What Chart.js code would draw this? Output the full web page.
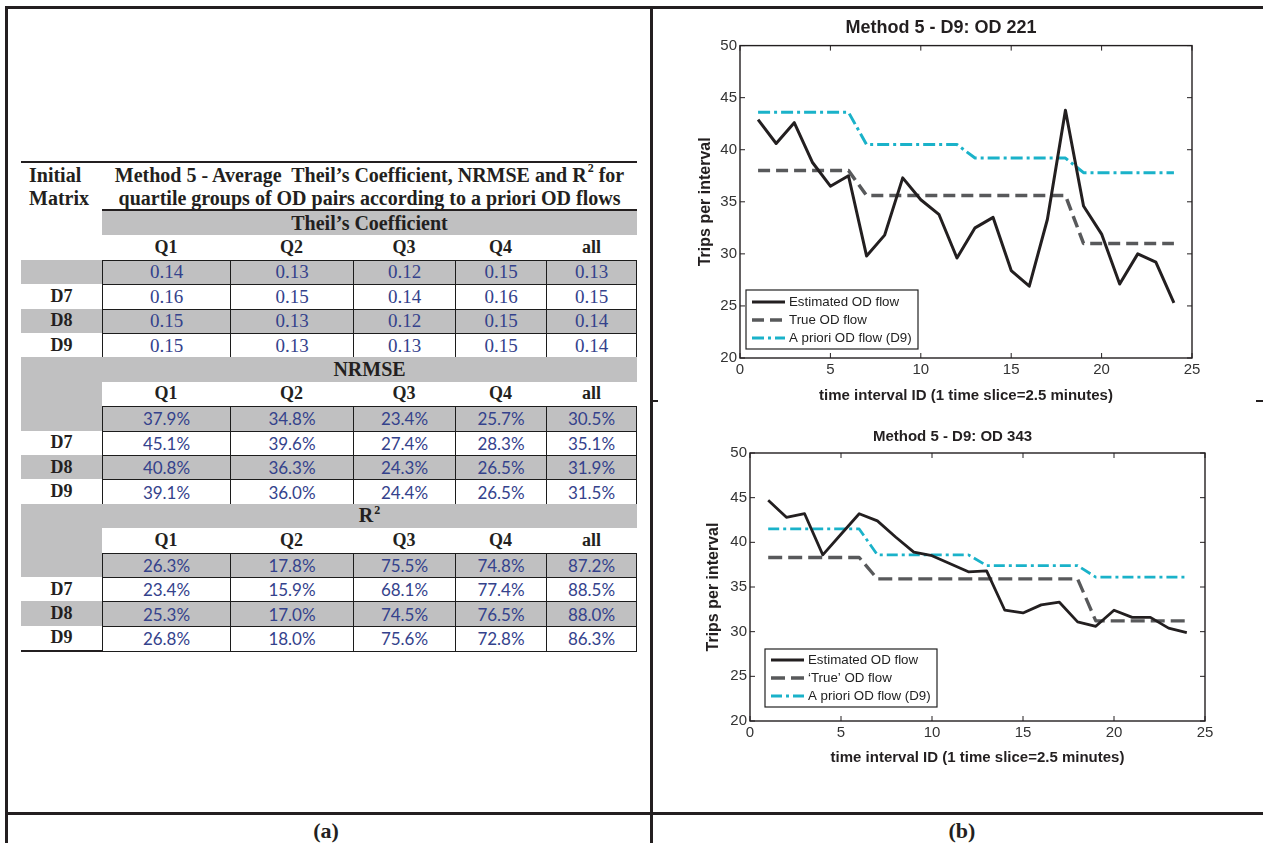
<!DOCTYPE html>
<html>
<head>
<meta charset="utf-8">
<title>Method 5 - D9</title>
<script src="https://cdn.jsdelivr.net/npm/chart.js@4.4.1/dist/chart.umd.min.js"></script>
<style>
    html, body { margin: 0; padding: 0; background: #fff; }
    #page { position: relative; width: 1263px; height: 843px; overflow: hidden; background: #fff; }
    .rule { position: absolute; background: #231f20; }
    .txt { position: absolute; white-space: nowrap; color: #231f20; }
    .serifB { font-family: 'Liberation Serif', 'Times New Roman', serif; font-weight: bold; font-size: 18px; }
    .big { font-size: 20px; }
    .fill { position: absolute; background: #c0c0c1; }
    .cell { position: absolute; box-sizing: border-box; display: flex; align-items: center; justify-content: center;
            border-left: 1.5px solid #1c1c1c; border-top: 1.5px solid #1c1c1c; color: #34428c; }
    .cell.valSerif { font-family: 'Liberation Serif', 'DejaVu Serif', serif; font-weight: normal; font-size: 19px; }
    .cell.valSans { font-family: Lato, 'Open Sans', sans-serif; font-size: 17px; }
    .center { position: absolute; display: flex; align-items: center; justify-content: center; white-space: nowrap; color: #231f20; }
    .sup { font-size: 12px; position: relative; top: -7px; margin-left: 1px; }
    canvas { position: absolute; }
</style>
</head>
<body>
<div id="page">
    <canvas id="chartOD221" width="530" height="400" style="left:690px; top:10px;"></canvas>
    <canvas id="chartOD343" width="530" height="355" style="left:700px; top:420px;"></canvas>
</div>
<script>
// ---------- table data ----------
const quartiles = ['Q1', 'Q2', 'Q3', 'Q4', 'all'];
const matrixLabels = ['', 'D7', 'D8', 'D9'];
const theilValues = [
    [0.14, 0.13, 0.12, 0.15, 0.13],
    [0.16, 0.15, 0.14, 0.16, 0.15],
    [0.15, 0.13, 0.12, 0.15, 0.14],
    [0.15, 0.13, 0.13, 0.15, 0.14],
];
const nrmseValues = [
    [37.9, 34.8, 23.4, 25.7, 30.5],
    [45.1, 39.6, 27.4, 28.3, 35.1],
    [40.8, 36.3, 24.3, 26.5, 31.9],
    [39.1, 36.0, 24.4, 26.5, 31.5],
];
const r2Values = [
    [26.3, 17.8, 75.5, 74.8, 87.2],
    [23.4, 15.9, 68.1, 77.4, 88.5],
    [25.3, 17.0, 74.5, 76.5, 88.0],
    [26.8, 18.0, 75.6, 72.8, 86.3],
];

// ---------- chart data ----------
const intervals = [1, 2, 3, 4, 5, 6, 7, 8, 9, 10, 11, 12, 13, 14, 15, 16, 17, 18, 19, 20, 21, 22, 23, 24];

const estimated221 = [42.9, 40.6, 42.6, 38.8, 36.5, 37.5, 29.8, 31.8, 37.3, 35.2, 33.8, 29.6,
                      32.5, 33.5, 28.4, 26.9, 33.3, 43.8, 34.6, 31.9, 27.1, 30.0, 29.2, 25.3];
const true221 = [38.0, 38.0, 38.0, 38.0, 38.0, 38.0, 35.6, 35.6, 35.6, 35.6, 35.6, 35.6,
                 35.6, 35.6, 35.6, 35.6, 35.6, 35.6, 31.0, 31.0, 31.0, 31.0, 31.0, 31.0];
const apriori221 = [43.6, 43.6, 43.6, 43.6, 43.6, 43.6, 40.5, 40.5, 40.5, 40.5, 40.5, 40.5,
                    39.2, 39.2, 39.2, 39.2, 39.2, 39.2, 37.8, 37.8, 37.8, 37.8, 37.8, 37.8];

const estimated343 = [44.7, 42.8, 43.2, 38.6, 40.9, 43.2, 42.4, 40.6, 38.9, 38.5, 37.6, 36.7,
                      36.8, 32.4, 32.1, 33.0, 33.3, 31.1, 30.6, 32.4, 31.6, 31.6, 30.4, 29.9];
const true343 = [38.3, 38.3, 38.3, 38.3, 38.3, 38.3, 35.9, 35.9, 35.9, 35.9, 35.9, 35.9,
                 35.9, 35.9, 35.9, 35.9, 35.9, 35.9, 31.2, 31.2, 31.2, 31.2, 31.2, 31.2];
const apriori343 = [41.5, 41.5, 41.5, 41.5, 41.5, 41.5, 38.6, 38.6, 38.6, 38.6, 38.6, 38.6,
                    37.4, 37.4, 37.4, 37.4, 37.4, 37.4, 36.1, 36.1, 36.1, 36.1, 36.1, 36.1];

const page = document.getElementById('page');

function addDiv(cls, style, html) {
    const d = document.createElement('div');
    d.className = cls;
    Object.assign(d.style, style);
    if (html !== undefined) d.innerHTML = html;
    page.appendChild(d);
    return d;
}
const px = (v) => v + 'px';

// ---------- panel frame ----------
addDiv('rule', { left: px(6), top: px(6), width: px(1257), height: px(2.5) });
addDiv('rule', { left: px(5), top: px(6), width: px(2.5), height: px(837) });
addDiv('rule', { left: px(650), top: px(6), width: px(2.5), height: px(837) });
addDiv('rule', { left: px(6), top: px(812), width: px(1257), height: px(2.5) });
addDiv('rule', { left: px(652), top: px(400), width: px(6), height: px(1.5) });
addDiv('rule', { left: px(1256), top: px(400), width: px(7), height: px(1.5) });
addDiv('center serifB', { left: px(300), top: px(817), width: px(52), height: px(28), fontSize: '22px' }, '(a)');
addDiv('center serifB', { left: px(936), top: px(817), width: px(52), height: px(28), fontSize: '22px' }, '(b)');

// ---------- table ----------
const colEdges = [21, 102, 230, 353, 455, 546, 637];
const tableTop = 211;
const rowH = 24.4;

addDiv('rule', { left: px(21), top: px(161), width: px(616), height: px(2) });
addDiv('txt serifB big', { left: px(29), top: px(164) }, 'Initial');
addDiv('txt serifB big', { left: px(29), top: px(187) }, 'Matrix');
addDiv('center serifB big', { left: px(102), top: px(164), width: px(535), height: px(23) },
    'Method 5 - Average&nbsp; Theil\u2019s Coefficient, NRMSE and R<span class="sup">2</span>&nbsp;for');
addDiv('center serifB big', { left: px(102), top: px(187), width: px(535), height: px(23) },
    'quartile groups of OD pairs according to a priori OD flows');
addDiv('rule', { left: px(102), top: px(209), width: px(535), height: px(2) });

const sections = [
    { name: 'Theil\u2019s Coefficient', values: theilValues, fmt: (v) => v.toFixed(2), cls: 'valSerif' },
    { name: 'NRMSE', values: nrmseValues, fmt: (v) => v.toFixed(1) + '%', cls: 'valSans' },
    { name: 'R<span class="sup" style="top:-5px">2</span>', values: r2Values, fmt: (v) => v.toFixed(1) + '%', cls: 'valSans' },
];

const dataLeft = colEdges[1];
const right = colEdges[colEdges.length - 1];

sections.forEach((sec, k) => {
    const y0 = tableTop + k * 6 * rowH;
    // grey band with section name
    const bandLeft = k === 0 ? dataLeft : colEdges[0];
    addDiv('fill', { left: px(bandLeft), top: px(y0), width: px(right - bandLeft), height: px(rowH) });
    if (k > 0) addDiv('fill', { left: px(colEdges[0]), top: px(y0), width: px(dataLeft - colEdges[0]), height: px(3 * rowH) });
    addDiv('center serifB big', { left: px(dataLeft), top: px(y0), width: px(right - dataLeft), height: px(rowH) }, sec.name);

    // quartile header row
    quartiles.forEach((q, c) => {
        addDiv('center serifB', { left: px(colEdges[c + 1]), top: px(y0 + rowH), width: px(colEdges[c + 2] - colEdges[c + 1]), height: px(rowH) }, q);
    });

    // value rows
    sec.values.forEach((row, r) => {
        const y = y0 + (2 + r) * rowH;
        if (r === 0 || r === 2) {
            addDiv('fill', { left: px(colEdges[0]), top: px(y), width: px(right - colEdges[0]), height: px(rowH) });
        }
        addDiv('center serifB', { left: px(colEdges[0]), top: px(y), width: px(dataLeft - colEdges[0]), height: px(rowH) }, matrixLabels[r]);
        row.forEach((v, c) => {
            const st = { left: px(colEdges[c + 1]), top: px(y), width: px(colEdges[c + 2] - colEdges[c + 1]), height: px(rowH + (r === 3 ? 1.5 : 0)) };
            if (c === row.length - 1) st.borderRight = '1.5px solid #1c1c1c';
            if (r === sec.values.length - 1) st.borderBottom = '1.5px solid #1c1c1c';
            addDiv('cell ' + sec.cls, st, sec.fmt(v));
        });
    });
});
addDiv('rule', { left: px(21), top: px(tableTop + 18 * rowH - 0.5), width: px(dataLeft - 21), height: px(2.5) });

// ---------- charts ----------
Chart.defaults.font.family = "'Liberation Sans', Arial, sans-serif";
Chart.defaults.color = '#333';

// MATLAB-like axes box with inward tick marks
const boxAxes = {
    id: 'boxAxes',
    afterDatasetsDraw(chart, args, opts) {
        const { ctx, chartArea: a, scales: { x, y } } = chart;
        ctx.save();
        ctx.strokeStyle = opts.color;
        ctx.lineWidth = opts.lineWidth;
        ctx.strokeRect(a.left, a.top, a.right - a.left, a.bottom - a.top);
        ctx.lineWidth = 1;
        ctx.beginPath();
        x.ticks.forEach((t) => {
            const p = x.getPixelForValue(t.value);
            ctx.moveTo(p, a.bottom); ctx.lineTo(p, a.bottom - opts.tickLength);
            ctx.moveTo(p, a.top); ctx.lineTo(p, a.top + opts.tickLength);
        });
        y.ticks.forEach((t) => {
            const p = y.getPixelForValue(t.value);
            ctx.moveTo(a.left, p); ctx.lineTo(a.left + opts.tickLength, p);
            ctx.moveTo(a.right, p); ctx.lineTo(a.right - opts.tickLength, p);
        });
        ctx.stroke();
        ctx.restore();
    },
};

// boxed legend in the lower left corner of the plot
const insideLegend = {
    id: 'insideLegend',
    afterDraw(chart, args, opts) {
        const { ctx, chartArea: a } = chart;
        const left = a.left + opts.offsetX;
        const top = a.bottom - opts.offsetY - opts.height;
        ctx.save();
        ctx.fillStyle = '#fff';
        ctx.fillRect(left, top, opts.width, opts.height);
        ctx.strokeStyle = '#222';
        ctx.lineWidth = 1.2;
        ctx.strokeRect(left, top, opts.width, opts.height);
        ctx.font = opts.fontSize + "px 'Liberation Sans', Arial, sans-serif";
        ctx.textBaseline = 'middle';
        chart.data.datasets.forEach((ds, i) => {
            const yy = top + opts.firstRow + i * opts.rowGap;
            ctx.beginPath();
            ctx.strokeStyle = ds.borderColor;
            ctx.lineWidth = ds.borderWidth;
            ctx.setLineDash(ds.borderDash || []);
            ctx.moveTo(left + 6, yy);
            ctx.lineTo(left + 6 + opts.sample, yy);
            ctx.stroke();
            ctx.setLineDash([]);
            ctx.fillStyle = '#222';
            ctx.fillText(ds.label, left + 10 + opts.sample, yy + 0.5);
        });
        ctx.restore();
    },
};

function toPoints(values) {
    return intervals.map((t, i) => ({ x: t, y: values[i] }));
}

function buildChart(canvasId, cfg) {
    return new Chart(document.getElementById(canvasId), {
        type: 'line',
        data: {
            datasets: [
                {
                    label: 'Estimated OD flow',
                    data: toPoints(cfg.estimated),
                    borderColor: '#231f20',
                    borderWidth: cfg.lineWidth,
                },
                {
                    label: cfg.trueLabel,
                    data: toPoints(cfg.trueFlow),
                    borderColor: '#58595b',
                    borderWidth: cfg.lineWidth + 0.5,
                    borderDash: cfg.dash,
                },
                {
                    label: 'A priori OD flow (D9)',
                    data: toPoints(cfg.apriori),
                    borderColor: '#1ab2c9',
                    borderWidth: cfg.lineWidth,
                    borderDash: cfg.dashDot,
                },
            ],
        },
        options: {
            responsive: false,
            animation: false,
            layout: { padding: { left: 0, right: cfg.padRight, top: 0, bottom: 0 } },
            elements: {
                point: { radius: 0 },
                line: { tension: 0, fill: false, borderJoinStyle: 'round' },
            },
            plugins: {
                legend: { display: false },
                tooltip: { enabled: false },
                title: {
                    display: true,
                    text: cfg.title,
                    color: '#231f20',
                    font: { size: cfg.titleSize, weight: 'bold', lineHeight: 1.2 },
                    padding: cfg.titlePadding,
                },
                boxAxes: { color: '#231f20', lineWidth: 1.4, tickLength: 5 },
                insideLegend: cfg.legend,
            },
            scales: {
                x: {
                    type: 'linear',
                    min: 0,
                    max: 25,
                    ticks: { stepSize: 5, font: { size: 15 }, color: '#333', padding: 3, maxRotation: 0 },
                    grid: { display: false, drawTicks: false },
                    border: { display: false },
                    title: {
                        display: true,
                        text: 'time interval ID (1 time slice=2.5 minutes)',
                        color: '#231f20',
                        font: { size: 15, weight: 'bold', lineHeight: 1.2 },
                        padding: { top: 0, bottom: cfg.xTitlePad },
                    },
                    afterFit: (s) => { s.height = cfg.xAxisHeight; },
                },
                y: {
                    min: 20,
                    max: 50,
                    ticks: { stepSize: 5, font: { size: 15 }, color: '#333', padding: 3 },
                    grid: { display: false, drawTicks: false },
                    border: { display: false },
                    title: {
                        display: true,
                        text: 'Trips per interval',
                        color: '#231f20',
                        font: { size: 16, weight: 'bold', lineHeight: 1.2 },
                        padding: { top: cfg.yTitlePad, bottom: 0 },
                    },
                    afterFit: (s) => { s.width = cfg.yAxisWidth; },
                },
            },
        },
        plugins: [boxAxes, insideLegend],
    });
}

buildChart('chartOD221', {
    title: 'Method 5 - D9: OD 221',
    titleSize: 18,
    titlePadding: { top: 7, bottom: 7 },
    estimated: estimated221,
    trueFlow: true221,
    apriori: apriori221,
    trueLabel: 'True OD flow',
    lineWidth: 3,
    dash: [12, 6],
    dashDot: [12, 4, 3, 4],
    padRight: 28,
    xAxisHeight: 52,
    yAxisWidth: 50,
    xTitlePad: 5,
    yTitlePad: 6,
    legend: { offsetX: 6, offsetY: 9, width: 172, height: 59, firstRow: 12, rowGap: 18, sample: 33, fontSize: 13.3 },
});

buildChart('chartOD343', {
    title: 'Method 5 - D9: OD 343',
    titleSize: 15,
    titlePadding: { top: 8, bottom: 7 },
    estimated: estimated343,
    trueFlow: true343,
    apriori: apriori343,
    trueLabel: '\u2018True\u2019 OD flow',
    lineWidth: 2.8,
    dash: [14, 6],
    dashDot: [11, 4, 3, 4],
    padRight: 25,
    xAxisHeight: 54,
    yAxisWidth: 50,
    xTitlePad: 8,
    yTitlePad: 4,
    legend: { offsetX: 15, offsetY: 14, width: 172, height: 58, firstRow: 11, rowGap: 18, sample: 33, fontSize: 13.3 },
});
</script>
</body>
</html>
